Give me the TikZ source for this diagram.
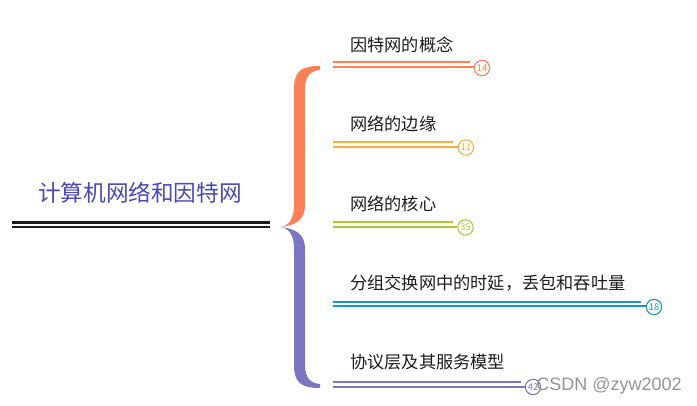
\documentclass[tikz,border=0pt]{standalone}
\usepackage{fontspec}
\setmainfont{Noto Sans CJK SC}
\newfontfamily\markfont{Liberation Sans}
\usetikzlibrary{positioning,calc}
\definecolor{mapcoral}{RGB}{255,128,86}
\definecolor{maporange}{RGB}{255,172,62}
\definecolor{mapgreen}{RGB}{176,196,52}
\definecolor{mapteal}{RGB}{24,150,192}
\definecolor{mappurple}{RGB}{122,118,194}
\definecolor{maproot}{RGB}{72,72,186}
\definecolor{mapdark}{RGB}{28,28,28}

\begin{document}
\begin{tikzpicture}[
    x=0.75pt, y=-0.75pt,
    topic/.style={anchor=west, inner sep=0pt, font=\fontsize{12.9pt}{14pt}\selectfont, text=mapdark},
    count/.style={circle, draw, fill=white, line width=0.8pt, minimum size=11.5pt, inner sep=0pt, font=\fontsize{7pt}{8pt}\selectfont},
    rule/.style={line width=1.5pt}
  ]
  \useasboundingbox (0,0) rectangle (697,406);

  % root
  \node[font=\fontsize{17pt}{20pt}\selectfont, text=maproot, inner sep=0pt] (root) at (140,193) {计算机网络和因特网};
  \coordinate (rl) at (12,222.5);
  \coordinate (rr) at (270,222.5);
  \draw[mapdark, line width=1.9pt] (rl) -- (rr);
  \draw[mapdark, line width=1.9pt] ($(rl)+(0,4.5)$) -- ($(rr)+(0,4.5)$);

  % brace
  \fill[mapcoral] (320,66) .. controls (300,66) and (294,72) .. (294,90) -- (294,205)
    .. controls (294,218) and (290,225) .. (281,227)
    .. controls (296,225) and (305,220) .. (305,205) -- (305,90)
    .. controls (305,76) and (310,71) .. (320,70) -- cycle;
  \fill[mappurple] (281,227) .. controls (290,229) and (294,236) .. (294,249) -- (294,364)
    .. controls (294,382) and (300,388) .. (320,388) -- (320,384)
    .. controls (310,383) and (305,378) .. (305,364) -- (305,249)
    .. controls (305,234) and (296,229) .. (281,227) -- cycle;

  % topics
  \node[topic] (t1) at (350,45) {因特网的概念};
  \coordinate (l1) at (333,67);
  \node[count, draw=mapcoral, text=mapcoral] (n1) at (482,68) {14};
  \draw[rule, mapcoral] (l1) -- (n1.west |- l1);
  \draw[rule, mapcoral] ($(l1)+(0,-4.5)$) -- ($(n1.center |- l1)+(-12,-4.5)$);

  \node[topic] (t2) at (350,124) {网络的边缘};
  \coordinate (l2) at (333,147);
  \node[count, draw=maporange, text=maporange] (n2) at (466,147.5) {11};
  \draw[rule, maporange] (l2) -- (n2.west |- l2);
  \draw[rule, maporange] ($(l2)+(0,-4.5)$) -- ($(n2.center |- l2)+(-13,-4.5)$);

  \node[topic] (t3) at (350,204) {网络的核心};
  \coordinate (l3) at (333,227);
  \node[count, draw=mapgreen, text=mapgreen] (n3) at (465.5,227.5) {35};
  \draw[rule, mapgreen] (l3) -- (n3.west |- l3);
  \draw[rule, mapgreen] ($(l3)+(0,-4.5)$) -- ($(n3.center |- l3)+(-13,-4.5)$);

  \node[topic] (t4) at (350,283) {分组交换网中的时延，丢包和吞吐量};
  \coordinate (l4) at (333,306.5);
  \node[count, draw=mapteal, text=mapteal] (n4) at (654,307) {18};
  \draw[rule, mapteal] (l4) -- (n4.west |- l4);
  \draw[rule, mapteal] ($(l4)+(0,-4.5)$) -- ($(n4.center |- l4)+(-13,-4.5)$);

  \node[topic] (t5) at (350,362) {协议层及其服务模型};
  \coordinate (l5) at (333,386.5);
  \node[count, draw=mappurple, text=mappurple] (n5) at (533,387) {42};
  \draw[rule, mappurple] (l5) -- (n5.west |- l5);
  \draw[rule, mappurple] ($(l5)+(0,-4.5)$) -- ($(n5.center |- l5)+(-12,-4.5)$);

  % watermark
  \node[anchor=west, inner sep=0pt, text=black!42, font=\markfont\fontsize{13.5pt}{16pt}\selectfont] (mark) at (536,386) {CSDN @zyw2002};
\end{tikzpicture}
\end{document}
